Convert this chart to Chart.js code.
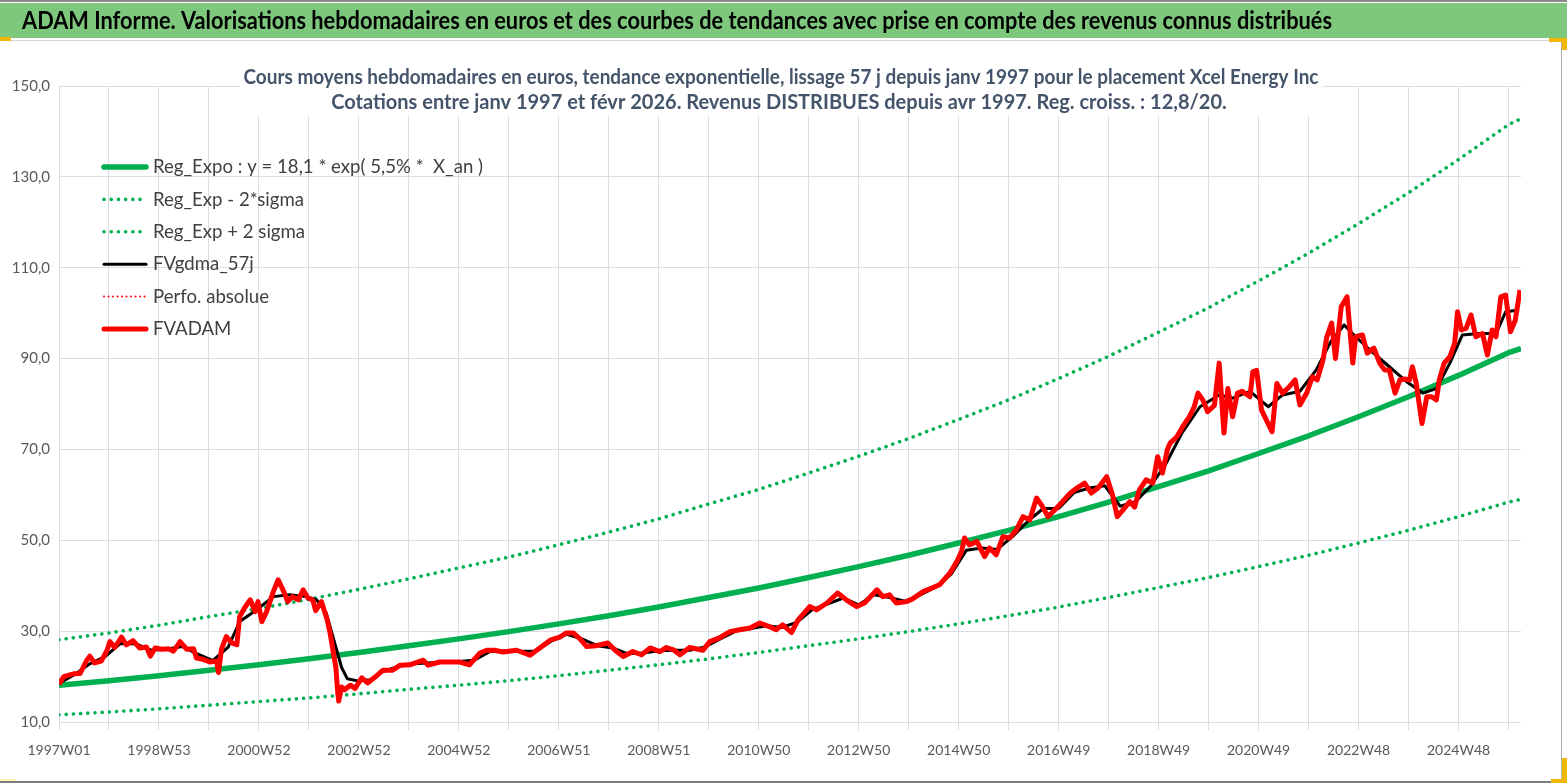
<!DOCTYPE html>
<html lang="fr">
<head>
<meta charset="utf-8">
<title>ADAM Informe - Xcel Energy Inc</title>
<script src="https://cdn.jsdelivr.net/npm/chart.js@4.4.1/dist/chart.umd.min.js"></script>
<style>
  html, body { margin: 0; padding: 0; background: #fff; }
  #wrap { position: relative; width: 1567px; height: 783px; }
</style>
</head>
<body>
<div id="wrap"><canvas id="chart"></canvas></div>
<script>
// texts
const bannerTitle = "ADAM Informe. Valorisations hebdomadaires en euros et des courbes de tendances avec prise en compte des revenus connus distribués";
const chartTitle = [
  "Cours moyens hebdomadaires en euros, tendance exponentielle, lissage 57 j depuis janv 1997 pour le placement Xcel Energy Inc",
  "Cotations entre janv 1997 et févr 2026. Revenus DISTRIBUES depuis avr 1997. Reg. croiss. : 12,8/20."
];
const seriesNames = [
  "Reg_Expo : y = 18,1 * exp( 5,5% *  X_an )",
  "Reg_Exp - 2*sigma",
  "Reg_Exp + 2 sigma",
  "FVgdma_57j",
  "Perfo. absolue",
  "FVADAM"
];

// x axis: week index since 1997W01, one label every 104 weeks
const xTickLabels = ["1997W01", "1998W53", "2000W52", "2002W52", "2004W52", "2006W51", "2008W51",
  "2010W50", "2012W50", "2014W50", "2016W49", "2018W49", "2020W49", "2022W48", "2024W48"];
const lastWeek = 1521;

// trend curves, read once a year
const trendWeeks = [0, 52, 104, 156, 208, 260, 312, 364, 416, 468, 520, 572, 624, 676, 728, 780,
  832, 884, 936, 988, 1040, 1092, 1144, 1196, 1248, 1300, 1352, 1404, 1456, 1508, 1521];
const regExpo = [18.1, 19.1, 20.2, 21.4, 22.6, 23.9, 25.3, 26.8, 28.3, 29.9, 31.6, 33.4, 35.3, 37.4, 39.5,
  41.8, 44.2, 46.7, 49.4, 52.2, 55.2, 58.4, 61.8, 65.3, 69.1, 73.0, 77.2, 81.6, 86.3, 91.3, 92.2];
const regLow = [11.6, 12.2, 12.9, 13.7, 14.5, 15.3, 16.2, 17.2, 18.1, 19.1, 20.2, 21.4, 22.6, 23.9, 25.3,
  26.8, 28.3, 29.9, 31.6, 33.4, 35.3, 37.4, 39.6, 41.8, 44.2, 46.7, 49.4, 52.2, 55.2, 58.4, 59.0];
const regHigh = [28.1, 29.6, 31.3, 33.2, 35.0, 37.0, 39.2, 41.5, 43.9, 46.3, 49.0, 51.8, 54.7, 58.0, 61.2,
  64.8, 68.5, 72.4, 76.6, 80.9, 85.6, 90.5, 95.8, 101.2, 107.1, 113.2, 119.7, 126.5, 133.8, 141.5, 142.8];

// FVADAM (weekly valuation), sampled
const adamWeeks = [0, 5, 15, 22, 29, 32, 37, 44, 50, 53, 58, 65, 70, 77, 84, 91, 95, 100, 107, 114,
  119, 126, 133, 140, 143, 150, 157, 164, 166, 169, 174, 180, 185, 188, 193, 199, 204, 207, 211, 216,
  223, 228, 233, 238, 243, 249, 254, 259, 264, 267, 273, 279, 282, 285, 288, 290, 291, 294, 297, 303,
  308, 315, 321, 329, 337, 347, 355, 365, 379, 384, 396, 407, 417, 427, 438, 445, 453, 462, 476, 490,
  497, 511, 521, 528, 535, 542, 549, 559, 571, 580, 587, 597, 606, 615, 625, 632, 640, 646, 656, 670,
  677, 687, 698, 708, 719, 729, 739, 746, 753, 762, 769, 781, 788, 799, 810, 819, 830, 838, 851, 857,
  864, 871, 882, 888, 899, 906, 916, 927, 934, 939, 942, 947, 955, 963, 968, 975, 982, 989, 996, 1003,
  1010, 1017, 1022, 1029, 1036, 1044, 1052, 1059, 1067, 1074, 1081, 1090, 1096, 1101, 1107, 1114, 1119, 1124, 1131, 1138,
  1143, 1148, 1153, 1156, 1163, 1169, 1176, 1181, 1185, 1190, 1195, 1202, 1207, 1212, 1216, 1221, 1226, 1231, 1239, 1242,
  1246, 1251, 1256, 1262, 1267, 1273, 1280, 1286, 1291, 1298, 1304, 1309, 1315, 1319, 1324, 1328, 1334, 1340, 1346, 1349,
  1356, 1361, 1368, 1374, 1379, 1384, 1390, 1395, 1400, 1405, 1408, 1412, 1418, 1423, 1428, 1433, 1436, 1441, 1447, 1452,
  1455, 1459, 1464, 1469, 1474, 1481, 1486, 1491, 1495, 1500, 1505, 1510, 1515, 1520];
const adamValues = [18.3, 20.0, 20.6, 20.7, 23.6, 24.5, 23.0, 23.4, 25.8, 27.7, 26.4, 28.7, 27.0, 27.9, 26.3, 26.5, 24.5, 26.3, 26.0, 26.1,
  25.6, 27.7, 26.0, 26.1, 24.1, 23.8, 23.2, 23.4, 20.9, 26.0, 28.8, 27.4, 27.0, 33.2, 35.1, 36.9, 34.3, 36.5, 32.1, 34.3,
  38.7, 41.3, 39.1, 36.5, 37.6, 36.9, 39.1, 37.3, 36.9, 34.5, 36.5, 32.5, 29.6, 25.8, 22.1, 16.4, 14.6, 17.7, 17.1, 18.1,
  17.4, 19.7, 18.6, 19.9, 21.4, 21.4, 22.5, 22.6, 23.6, 22.5, 23.2, 23.2, 23.2, 22.6, 25.2, 25.8, 25.8, 25.4, 25.8, 24.7,
  25.8, 28.0, 28.7, 29.6, 29.6, 28.3, 26.6, 26.8, 27.4, 25.5, 24.4, 25.5, 24.8, 26.3, 25.5, 26.4, 25.8, 24.8, 26.4, 25.8,
  27.7, 28.5, 29.9, 30.3, 30.7, 31.8, 31.0, 30.3, 31.4, 29.7, 32.5, 35.4, 34.7, 36.2, 38.4, 36.9, 35.4, 36.2, 39.1, 37.6,
  38.0, 36.2, 36.5, 37.1, 38.7, 39.3, 40.2, 42.8, 45.3, 47.5, 50.5, 49.0, 49.7, 46.4, 48.3, 46.8, 50.8, 50.5, 52.3, 55.2,
  54.5, 59.3, 57.8, 55.2, 56.7, 58.5, 60.4, 61.5, 62.6, 60.4, 61.5, 64.0, 60.0, 55.2, 56.7, 58.5, 57.3, 61.1, 63.3, 62.6,
  68.4, 64.8, 69.9, 71.4, 72.8, 75.0, 77.2, 79.4, 82.4, 80.9, 78.3, 79.7, 89.0, 73.6, 83.4, 77.2, 82.4, 82.8, 81.6, 87.1,
  87.4, 78.7, 76.5, 73.9, 84.5, 82.4, 83.8, 85.3, 79.8, 82.4, 86.0, 85.3, 89.7, 94.8, 97.8, 90.0, 101.4, 103.6, 89.0, 94.8,
  95.2, 91.2, 92.3, 89.0, 87.5, 87.5, 82.4, 85.3, 85.5, 85.3, 88.2, 84.6, 75.7, 81.6, 81.6, 80.9, 85.3, 89.0, 90.4, 93.4,
  100.3, 96.3, 96.7, 99.6, 94.8, 95.5, 90.8, 96.3, 94.8, 103.6, 104.0, 95.9, 98.4, 105.1];

// FVgdma_57j (smoothed), sampled
const gdmaWeeks = [0, 16, 32, 48, 64, 80, 96, 112, 128, 144, 160, 176, 188, 205, 223, 240, 257, 268, 278, 286,
  294, 300, 312, 324, 336, 352, 368, 384, 400, 416, 432, 448, 464, 480, 496, 512, 528, 544, 560, 576,
  592, 608, 624, 640, 656, 672, 688, 704, 720, 736, 752, 768, 784, 800, 816, 832, 848, 864, 880, 896,
  912, 928, 944, 960, 976, 992, 1008, 1024, 1040, 1056, 1072, 1088, 1104, 1120, 1136, 1152, 1168, 1187, 1207, 1221,
  1239, 1258, 1273, 1291, 1308, 1323, 1337, 1349, 1366, 1384, 1402, 1419, 1433, 1447, 1460, 1477, 1495, 1505, 1519];
const gdmaValues = [18.5, 20.4, 22.8, 24.4, 27.3, 27.2, 25.8, 26.0, 26.6, 25.0, 23.5, 26.5, 32.1, 34.6, 37.6, 38.0, 37.6, 36.9, 34.0, 28.0,
  22.0, 19.5, 19.0, 19.3, 21.0, 22.2, 22.8, 23.0, 23.2, 23.3, 23.6, 25.5, 25.7, 25.6, 25.6, 27.8, 29.3, 28.3, 26.8, 26.3,
  25.0, 25.2, 25.7, 25.8, 25.8, 26.5, 28.3, 30.0, 30.6, 31.2, 30.8, 32.0, 34.8, 36.0, 37.3, 35.8, 38.0, 37.4, 36.6, 38.0,
  39.7, 42.5, 47.8, 48.3, 48.0, 50.8, 54.2, 57.0, 57.0, 60.5, 61.5, 62.0, 57.5, 58.5, 62.0, 67.0, 73.5, 79.4, 82.0, 81.3,
  82.8, 79.4, 82.0, 82.8, 87.5, 93.7, 97.4, 94.8, 91.5, 88.2, 84.9, 82.4, 83.4, 89.0, 95.2, 95.5, 95.5, 100.3, 100.7];

const pairs = (xs, ys) => xs.map((x, i) => ({ x: x, y: ys[i] }));

const FONT = "Lato, 'Open Sans', 'Liberation Sans', sans-serif";
const GRID = "#d9dde4";
const GREEN = "#00b050";
const DOTS = [0.01, 7.2];

// page frame, banner and chart title
const framePlugin = {
  id: "frame",
  beforeDraw(chart) {
    const ctx = chart.ctx;
    ctx.save();
    ctx.fillStyle = "#ffffff";
    ctx.fillRect(0, 0, chart.width, chart.height);
    ctx.fillStyle = "#8a8a8a";
    ctx.fillRect(0, 0, chart.width, 2);
    ctx.fillStyle = "#7ec87d";
    ctx.fillRect(0, 3, chart.width, 35);
    ctx.fillStyle = "#d4d7dc";
    ctx.fillRect(0, 40, chart.width, 1);
    ctx.fillStyle = "#b0b0b0";
    ctx.fillRect(1561, 41, 1, chart.height - 41);
    ctx.fillStyle = "#7f7f7f";
    ctx.fillRect(0, chart.height - 2, chart.width, 2);
    ctx.fillStyle = "#f2b705";
    ctx.fillRect(0, 37, 11, 4);
    ctx.fillRect(1549, 38, 18, 4);
    ctx.fillRect(1562, 38, 5, 12);
    ctx.fillRect(1562, 758, 5, 25);
    ctx.fillRect(1551, 779, 16, 4);
    ctx.fillStyle = "#fff3b0";
    ctx.fillRect(0, 779, 16, 2);

    ctx.fillStyle = "#000000";
    ctx.font = "bold 25px " + FONT;
    ctx.textBaseline = "middle";
    ctx.textAlign = "left";
    ctx.fillText(bannerTitle, 22, 21, 1310);
    ctx.restore();
  },
  afterDraw(chart) {
    const ctx = chart.ctx;
    ctx.save();
    ctx.fillStyle = "#ffffff";
    ctx.fillRect(240, 64, 1083, 52);
    ctx.fillStyle = "#44546a";
    ctx.font = "bold 20px " + FONT;
    ctx.textBaseline = "middle";
    ctx.textAlign = "center";
    ctx.fillText(chartTitle[0], 781, 78, 1075);
    ctx.fillText(chartTitle[1], 779, 103, 1048);
    ctx.restore();
  }
};

// legend drawn inside the plot area, as in the source
const legendPlugin = {
  id: "insideLegend",
  afterDraw(chart) {
    const ctx = chart.ctx;
    const sets = chart.data.datasets;
    ctx.save();
    ctx.font = "19px " + FONT;
    const w0 = ctx.measureText(sets[0].label).width;
    const squeeze = Math.min(1, 330 / w0);
    ctx.textBaseline = "middle";
    ctx.textAlign = "left";
    sets.forEach((ds, i) => {
      const y = 167 + i * 32.4;
      ctx.beginPath();
      ctx.strokeStyle = ds.borderColor;
      ctx.lineWidth = ds.legendWidth || ds.borderWidth;
      ctx.lineCap = "round";
      ctx.setLineDash(ds.borderDash || []);
      ctx.moveTo(104, y);
      ctx.lineTo(146, y);
      ctx.stroke();
      ctx.setLineDash([]);
      ctx.fillStyle = "#404040";
      const w = ctx.measureText(ds.label).width;
      ctx.fillText(ds.label, 153, y, w * squeeze);
    });
    ctx.restore();
  }
};

const majorTicks = [];
for (let w = 0; w <= lastWeek; w += 52) majorTicks.push(w);

new Chart(document.getElementById("chart"), {
  type: "line",
  data: {
    datasets: [
      { label: seriesNames[0], data: pairs(trendWeeks, regExpo), borderColor: GREEN, borderWidth: 5.5, order: 5 },
      { label: seriesNames[1], data: pairs(trendWeeks, regLow), borderColor: GREEN, borderWidth: 3.6,
        borderDash: DOTS, borderCapStyle: "round", order: 4 },
      { label: seriesNames[2], data: pairs(trendWeeks, regHigh), borderColor: GREEN, borderWidth: 3.6,
        borderDash: DOTS, borderCapStyle: "round", order: 3 },
      { label: seriesNames[3], data: pairs(gdmaWeeks, gdmaValues), borderColor: "#000000", borderWidth: 3, order: 2 },
      { label: seriesNames[4], data: [], borderColor: "#ff0000", borderWidth: 2, legendWidth: 2,
        borderDash: [0.01, 4.5], borderCapStyle: "round", order: 1 },
      { label: seriesNames[5], data: pairs(adamWeeks, adamValues), borderColor: "#ff0000", borderWidth: 5,
        legendWidth: 5, borderJoinStyle: "round", order: 0 }
    ]
  },
  options: {
    responsive: true,
    maintainAspectRatio: false,
    animation: false,
    events: [],
    layout: { padding: { top: 86, right: 46, bottom: 0, left: 0 } },
    elements: {
      point: { radius: 0 },
      line: { tension: 0, borderJoinStyle: "round", fill: false }
    },
    plugins: {
      legend: { display: false },
      title: { display: false },
      tooltip: { enabled: false }
    },
    scales: {
      x: {
        type: "linear",
        min: 0,
        max: lastWeek,
        afterBuildTicks: (scale) => { scale.ticks = majorTicks.map(v => ({ value: v })); },
        afterFit: (scale) => { scale.height = 61; },
        border: { display: false },
        grid: { color: GRID, lineWidth: 1, drawTicks: true, tickLength: 8, tickColor: GRID },
        ticks: {
          autoSkip: false,
          maxRotation: 0,
          padding: 12,
          color: "#595959",
          font: { family: FONT, size: 14 },
          callback: (value, index) => (index % 2 === 0 ? (xTickLabels[index / 2] || "") : "")
        }
      },
      y: {
        min: 10,
        max: 150,
        afterFit: (scale) => { scale.width = 59; },
        border: { display: false },
        grid: { color: GRID, lineWidth: 1, drawTicks: false },
        ticks: {
          stepSize: 20,
          padding: 9,
          color: "#595959",
          font: { family: FONT, size: 15 },
          callback: (v) => v.toFixed(1).replace(".", ",")
        }
      }
    }
  },
  plugins: [framePlugin, legendPlugin]
});
</script>
</body>
</html>
